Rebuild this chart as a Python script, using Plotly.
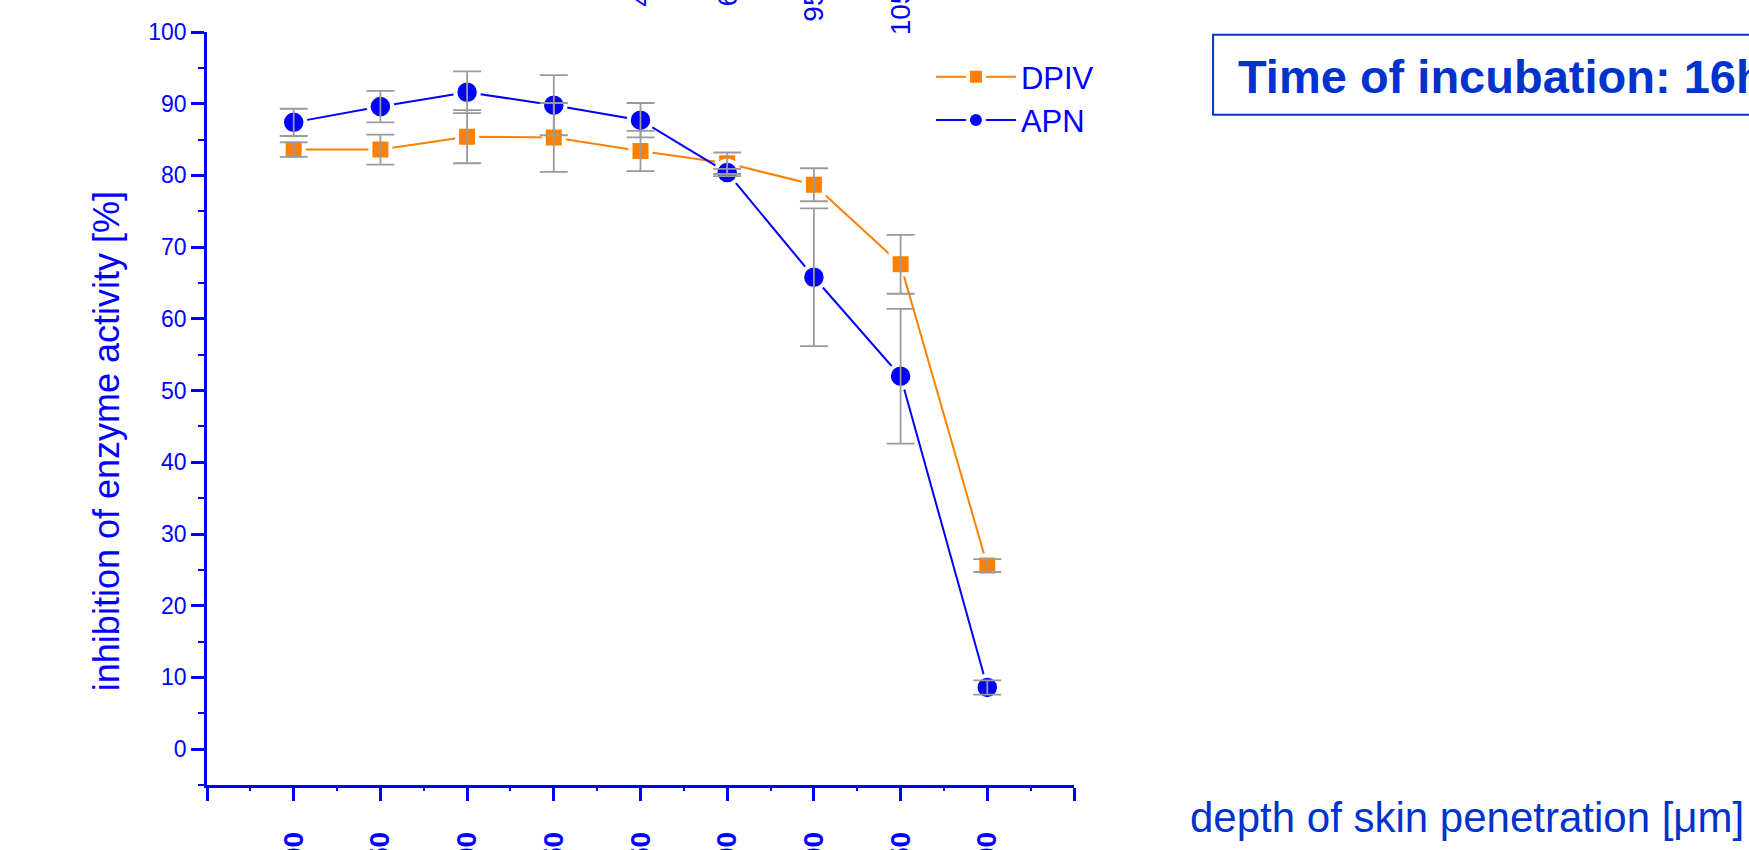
import plotly.graph_objects as go

# ---- data ----
positions = [1, 2, 3, 4, 5, 6, 7, 8, 9]
depth_labels = ["100", "150", "200", "250", "450-550", "600-700", "950-1000", "1050-1150", "1500"]

dpiv = [83.6, 83.6, 85.4, 85.3, 83.4, 81.7, 78.7, 67.6, 25.6]
dpiv_err = [1.0, 2.1, 3.7, 4.8, 2.8, 1.5, 2.3, 4.1, 0.9]

apn = [87.4, 89.6, 91.6, 89.8, 87.7, 80.4, 65.8, 52.0, 8.6]
apn_err = [1.9, 2.2, 2.9, 4.2, 2.4, 0.5, 9.6, 9.4, 1.0]

ORANGE = "#FF8000"
BLUE = "#0000FF"
TXT = "#0033CC"
GREY = "#9A9A9A"
FONT = "Liberation Sans, Arial, sans-serif"

fig = go.Figure()

fig.add_trace(go.Scatter(
    x=positions, y=dpiv, name="DPIV", mode="lines+markers",
    line=dict(color=ORANGE, width=2),
    marker=dict(symbol="square", size=20, color=ORANGE, line=dict(color="white", width=4)),
))
fig.add_trace(go.Scatter(
    x=positions, y=apn, name="APN", mode="lines+markers",
    line=dict(color=BLUE, width=2),
    marker=dict(symbol="circle", size=23.5, color=BLUE, line=dict(color="white", width=4)),
))
# error bars drawn on top
for vals, errs in ((dpiv, dpiv_err), (apn, apn_err)):
    fig.add_trace(go.Scatter(
        x=positions, y=vals, mode="markers", showlegend=False, hoverinfo="skip",
        marker=dict(size=1, opacity=0),
        error_y=dict(type="data", array=errs, visible=True, color=GREY, thickness=1.8, width=14),
    ))

# labels of the panel above (cut off by the page top)
for p, lab in zip(positions, depth_labels):
    fig.add_annotation(x=p, xref="x", y=1.173, yref="paper", text=lab, textangle=-90,
                       showarrow=False, yanchor="top", xanchor="center",
                       font=dict(family=FONT, size=28, color=BLUE))

fig.add_annotation(x=-0.115, xref="paper", y=0.457, yref="paper",
                   text="inhibition of enzyme activity [%]", textangle=-90, showarrow=False,
                   xanchor="center", yanchor="middle", font=dict(family=FONT, size=36, color=BLUE))
fig.add_annotation(x=1.1316, xref="paper", y=-0.0425, yref="paper",
                   text="depth of skin penetration [μm]", showarrow=False,
                   xanchor="left", yanchor="middle", font=dict(family=FONT, size=42, color=TXT))

# title box
fig.add_shape(type="rect", xref="paper", yref="paper", x0=1.1604, x1=1.9,
              y0=0.890, y1=0.9965, line=dict(color=TXT, width=2), fillcolor="rgba(0,0,0,0)")
fig.add_annotation(x=1.187, xref="paper", y=0.941, yref="paper",
                   text="<b>Time of incubation: 16h</b>", showarrow=False,
                   xanchor="left", yanchor="middle", font=dict(family=FONT, size=47, color=TXT))

fig.update_xaxes(
    range=[0, 10], showgrid=False, zeroline=False, showline=True, linecolor=BLUE, linewidth=2.5,
    tickmode="array", tickvals=[0] + positions + [10], ticktext=[""] + [f"<b>{t}</b>" for t in depth_labels] + [""],
    ticks="outside", ticklen=13, tickwidth=2.5, tickcolor=BLUE, tickangle=-90,
    ticklabelstandoff=20,
    tickfont=dict(family=FONT, size=28, color=BLUE),
    minor=dict(tickmode="linear", tick0=0.5, dtick=1, ticks="outside", ticklen=3, tickwidth=2, tickcolor=BLUE),
)
fig.update_yaxes(
    range=[-5, 100], showgrid=False, zeroline=False, showline=True, linecolor=BLUE, linewidth=2.5,
    tickmode="linear", tick0=0, dtick=10, ticks="outside", ticklen=13, tickwidth=2.5, tickcolor=BLUE,
    tickfont=dict(family=FONT, size=23, color=BLUE),
    minor=dict(tickmode="linear", tick0=5, dtick=10, ticks="outside", ticklen=6, tickwidth=2, tickcolor=BLUE),
)

fig.update_layout(
    width=1749, height=850,
    margin=dict(l=207, r=675, t=32, b=65, autoexpand=False),
    paper_bgcolor="white", plot_bgcolor="white",
    legend=dict(x=0.835, y=0.976, xanchor="left", yanchor="top", itemwidth=80,
                font=dict(family=FONT, size=31, color=BLUE), bgcolor="rgba(0,0,0,0)",
                tracegroupgap=0),
    font=dict(family=FONT, color=BLUE),
)

fig.write_html("out.html")
